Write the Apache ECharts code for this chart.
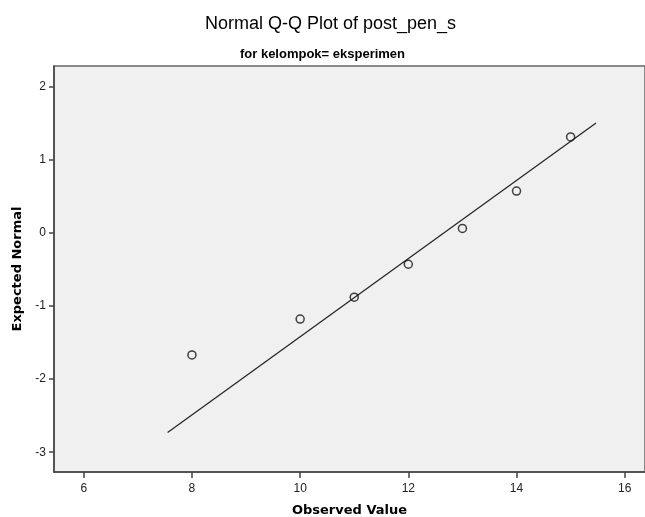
<!DOCTYPE html>
<html>
<head>
<meta charset="utf-8">
<script src="https://cdn.jsdelivr.net/npm/echarts@6/dist/echarts.min.js"></script>
<style>html,body{margin:0;padding:0;background:#fff;overflow:hidden;}#c{width:645px;height:517px;}</style>
</head>
<body>
<div id="c"></div>
<script>
// Observed values and their expected normal scores
var observed = [8, 10, 11, 12, 13, 14, 15];
var expectedNormal = [-1.67, -1.18, -0.88, -0.43, 0.06, 0.57, 1.31];
// Reference line end points
var lineX = [7.55, 15.47];
var lineY = [-2.73, 1.50];
// Tick labels
var xTicks = [6, 8, 10, 12, 14, 16];
var yTicks = [-3, -2, -1, 0, 1, 2];

var points = observed.map(function (v, i) { return [v, expectedNormal[i]]; });
var linePts = lineX.map(function (v, i) { return [v, lineY[i]]; });

var chart = echarts.init(document.getElementById('c'), null, {renderer: 'canvas'});
chart.setOption({
  animation: false,
  backgroundColor: '#ffffff',
  title: [
    {text: 'Normal Q-Q Plot of post_pen_s', left: 200, top: 10,
     textStyle: {fontFamily: 'Liberation Sans', fontSize: 18, fontWeight: 'normal', color: '#000'}},
    {text: 'for kelompok= eksperimen', left: 'center', top: 43,
     textStyle: {fontFamily: 'Liberation Sans', fontSize: 13, fontWeight: 'bold', color: '#000'}}
  ],
  grid: {left: 54, top: 66, right: 0, bottom: 45, show: true, outerBoundsMode: 'none',
         backgroundColor: '#f0f0f0', borderColor: '#666', borderWidth: 1.5},
  xAxis: {
    type: 'value', min: 5.45, max: 16.375,
    name: 'Observed Value', nameLocation: 'middle', nameGap: 32,
    nameTextStyle: {fontFamily: 'DejaVu Sans', fontSize: 13, fontWeight: 'bold', color: '#000'},
    axisLine: {show: true, onZero: false, lineStyle: {color: '#444', width: 1.5}},
    axisTick: {show: true, length: 6, customValues: xTicks, lineStyle: {color: '#444', width: 1.5}},
    axisLabel: {customValues: xTicks, fontFamily: 'Liberation Sans', fontSize: 12, color: '#222', margin: 11},
    splitLine: {show: false}
  },
  yAxis: {
    type: 'value', min: -3.27, max: 2.28,
    name: 'Expected Normal', nameLocation: 'middle', nameGap: 24,
    nameTextStyle: {fontFamily: 'DejaVu Sans', fontSize: 13, fontWeight: 'bold', color: '#000'},
    axisLine: {show: true, onZero: false, lineStyle: {color: '#444', width: 1.5}},
    axisTick: {show: true, length: 5, customValues: yTicks, lineStyle: {color: '#444', width: 1.5}},
    axisLabel: {customValues: yTicks, fontFamily: 'Liberation Sans', fontSize: 12, color: '#222', margin: 8},
    splitLine: {show: false}
  },
  series: [
    {type: 'line', data: linePts, symbol: 'none', silent: true,
     lineStyle: {color: '#222', width: 1.2}, z: 2},
    {type: 'scatter', data: points, symbol: 'circle', symbolSize: 8,
     itemStyle: {color: 'rgba(0,0,0,0)', borderColor: '#111', borderWidth: 1.5}, z: 3}
  ]
});
</script>
</body>
</html>
